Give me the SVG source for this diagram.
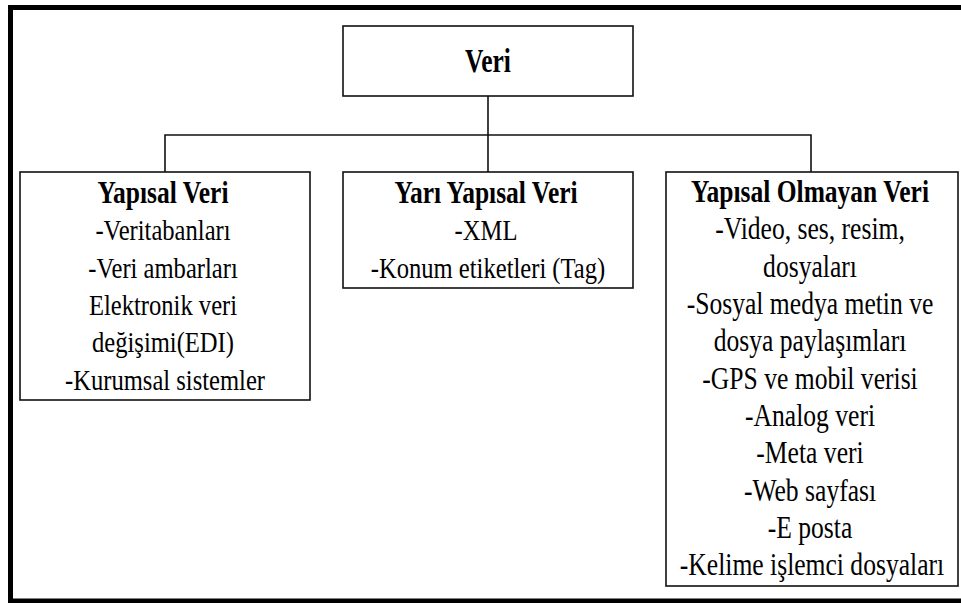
<svg xmlns="http://www.w3.org/2000/svg" width="961" height="603" viewBox="0 0 961 603">
<style>
.box{fill:#fff;stroke:#111;stroke-width:1.6}
.frame{fill:none;stroke:#000;stroke-width:5}
.con{fill:none;stroke:#111;stroke-width:1.6}
.lbl{font-family:'Liberation Serif','Times New Roman',serif;fill:#000;text-anchor:middle}
.t{font-weight:bold;font-size:25.5px}
.b{font-size:24.6px}
.b3{font-size:25.6px}
</style>
<rect width="961" height="603" fill="#fff"/>
<rect class="frame" x="10.5" y="7.5" width="960" height="593.5"/>
<g id="connectors">
<path class="con" d="M488,96 V172 M165,172 V135 H811 V172"/>
</g>
<g id="veri">
<rect class="box" x="343" y="26" width="290" height="70"/>
<text class="lbl t" transform="translate(488,72) scale(1,1.28)">Veri</text>
</g>
<g id="yapisal">
<rect class="box" x="20" y="172" width="290" height="228"/>
<text class="lbl" transform="translate(165,203) scale(1,1.22)">
<tspan class="t" x="0" y="0">Yapısal Veri</tspan>
<tspan class="b" x="0" y="30.6">-Veritabanları</tspan>
<tspan class="b" x="0" y="61.3">-Veri ambarları</tspan>
<tspan class="b" x="0" y="91.9">Elektronik veri</tspan>
<tspan class="b" x="0" y="122.5">değişimi(EDI)</tspan>
<tspan class="b" x="0" y="153.1">-Kurumsal sistemler</tspan>
</text>
</g>
<g id="yari-yapisal">
<rect class="box" x="343" y="172" width="290" height="116"/>
<text class="lbl" transform="translate(488,203) scale(1,1.22)">
<tspan class="t" x="0" y="0">Yarı Yapısal Veri</tspan>
<tspan class="b" x="0" y="30.6">-XML</tspan>
<tspan class="b" x="0" y="61.3">-Konum etiketleri (Tag)</tspan>
</text>
</g>
<g id="yapisal-olmayan">
<rect class="box" x="666" y="172" width="292" height="414"/>
<text class="lbl" transform="translate(812,202) scale(1,1.22)">
<tspan class="t" x="0" y="0">Yapısal Olmayan Veri</tspan>
<tspan class="b3" x="0" y="30.6">-Video, ses, resim,</tspan>
<tspan class="b3" x="0" y="61.2">dosyaları</tspan>
<tspan class="b3" x="0" y="91.8">-Sosyal medya metin ve</tspan>
<tspan class="b3" x="0" y="122.4">dosya paylaşımları</tspan>
<tspan class="b3" x="0" y="153">-GPS ve mobil verisi</tspan>
<tspan class="b3" x="0" y="183.6">-Analog veri</tspan>
<tspan class="b3" x="0" y="214.2">-Meta veri</tspan>
<tspan class="b3" x="0" y="244.8">-Web sayfası</tspan>
<tspan class="b3" x="0" y="275.4">-E posta</tspan>
<tspan class="b3" x="0" y="306">-Kelime işlemci dosyaları</tspan>
</text>
</g>
</svg>
